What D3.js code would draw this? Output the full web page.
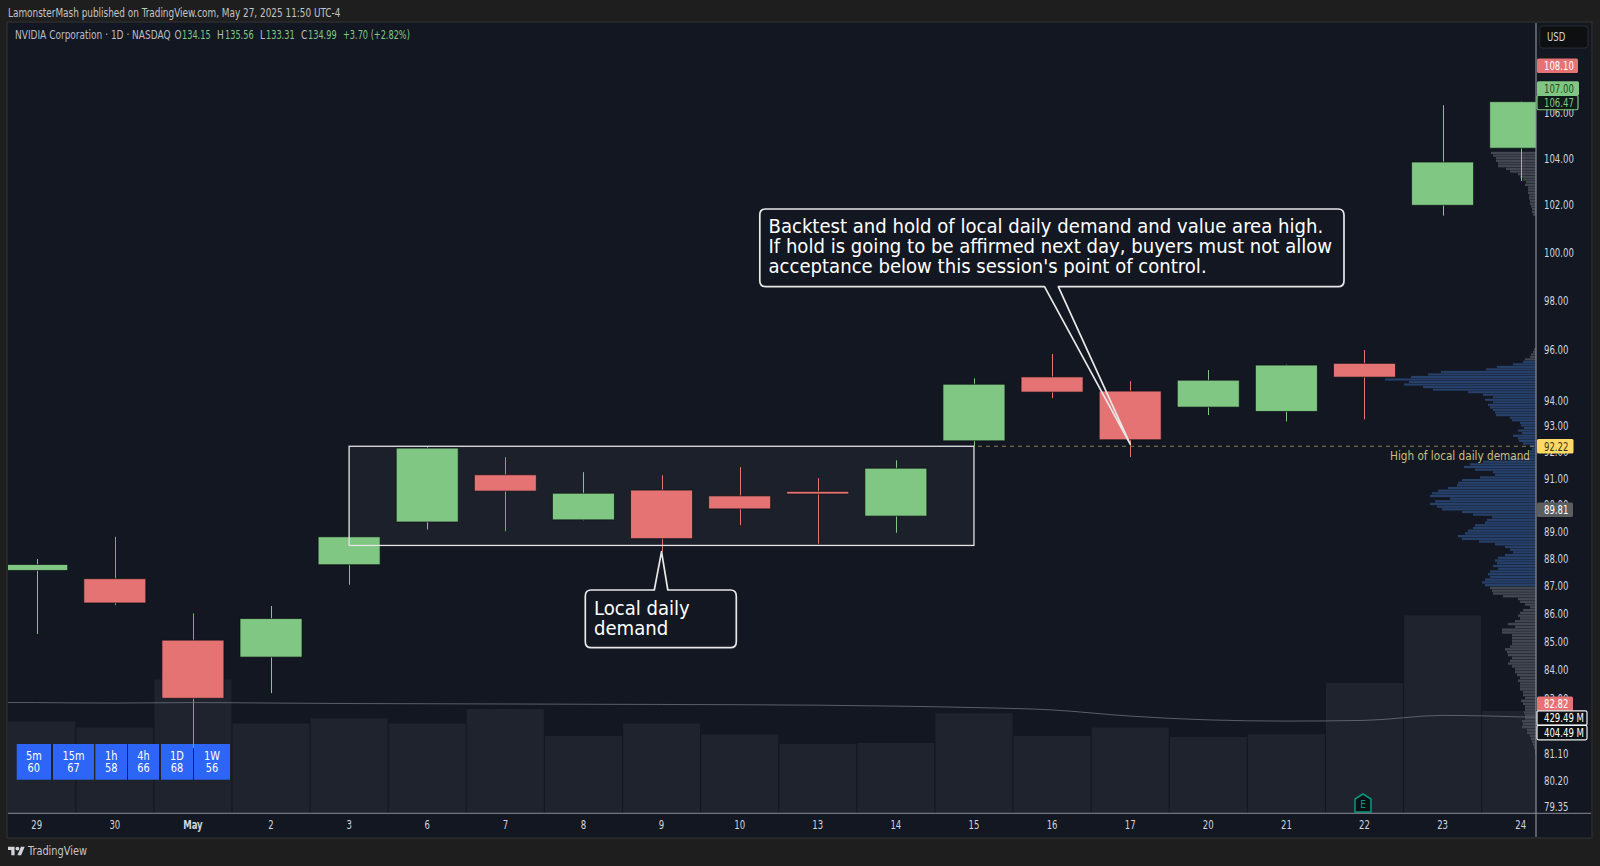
<!DOCTYPE html>
<html>
<head>
<meta charset="utf-8">
<script src="https://cdnjs.cloudflare.com/ajax/libs/d3/7.9.0/d3.min.js"></script>
<style>
html,body{margin:0;padding:0;background:#1e1e1e;overflow:hidden}
svg{display:block}
text{font-family:"DejaVu Sans Condensed","DejaVu Sans",sans-serif;font-stretch:condensed}
</style>
</head>
<body>
<svg id="chart" width="1600" height="866"></svg>
<script>
// NVDA daily session data
const dayLabels = ["29","30","May","2","3","6","7","8","9","10","13","14","15","16","17","20","21","22","23","24"];
const opens  = [87.56,87.26,85.05,84.45,87.77,89.35,91.13,89.43,90.55,90.33,90.50,89.57,92.43,94.93,94.37,93.74,93.57,95.47,101.98,104.44];
const highs  = [87.98,88.80,86.01,86.27,88.80,92.23,91.80,91.23,91.11,91.42,91.00,91.68,94.87,95.84,94.76,95.20,95.42,96.00,106.33,106.52];
const lows   = [85.27,86.30,81.30,83.19,87.04,89.07,89.01,89.41,88.25,89.23,88.54,88.95,92.23,94.09,91.80,93.43,93.18,93.26,101.54,103.02];
const closes = [87.78,86.38,83.01,85.82,88.80,92.15,90.51,90.43,88.73,89.84,90.40,91.38,94.64,94.33,92.47,94.80,95.40,94.92,103.84,106.49];
const volumes  = [386,360,562,377,398,377,438,325,377,330,291,295,420,325,360,320,332,547,832,429.49];
const volumeMA = [465,463,465,463,461,460,459,458,457,456,454,450,444,434,408,392,387,390,411,404.49];

const priceTicks = [106,104,102,100,98,96,94,93,92,91,90,89,88,87,86,85,84,83,81.1,80.2,79.35];

// Session volume profile, one list per cluster, widths read top-down
const profileUpperStart = 104.24, profileUpperStep = 0.115;
const profileUpper = [45,43,40,40,38,38,30,26,18,16,13,10,11,8,8,8,7,7,6,6,5,4,4,3];
const profileLowerStart = 96.03, profileLowerStep = 0.1;
const profileLower = [2,3,5,6,11,13,23,39,50,95,108,125,151,127,132,113,103,68,53,43,51,43,48,46,43,41,40,26,24,16,15,12,18,14,23,18,
 17,13,6,4,6,6,6,26,53,66,72,61,43,41,56,74,78,79,88,98,104,106,86,101,106,99,94,74,63,44,49,51,61,63,68,71,78,74,
 57,41,31,26,23,31,38,41,39,43,38,46,48,46,51,54,51,46,44,43,33,18,16,11,6,13,16,18,16,21,28,21,34,34,24,24,24,24,26,31,29,
 28,24,26,28,24,21,21,19,16,18,16,16,16,13,13,11,15,13,11,11,12,11,11,14,13,14,9,9,6,5,4,3,2,1,1];
const valueAreaHigh = 95.6, valueAreaLow = 87.0;

const timeframes = ["5m","15m","1h","4h","1D","1W"];
const tfScores   = [60,67,58,66,68,56];

const headerText = "LamonsterMash published on TradingView.com, May 27, 2025 11:50 UTC-4";
const noteHigh = ["Backtest and hold of local daily demand and value area high.",
                  "If hold is going to be affirmed next day, buyers must not allow",
                  "acceptance below this session's point of control."];
const noteLocal = ["Local daily","demand"];
const demandHigh = 92.22, demandLow = 88.48;

const GREEN="#81c784", RED="#e57373", BG="#131722", OUTER="#1e1e1e", AXIS="#d1d4dc";
const NARROW = 0.87, NUMERIC = 0.79;

const svg = d3.select("#chart");
const plot = {l:8, r:1536, t:23, b:813};

const x = d3.scaleBand().domain(dayLabels).range([-2.35,1559.75]).paddingInner(0.206).paddingOuter(0.103);
const xVol = d3.scaleBand().domain(dayLabels).range([-2.35,1559.75]).paddingInner(0.014).paddingOuter(0.007);
const cx = d => x(d) + x.bandwidth()/2;
const y = d3.scaleLog().domain([79.35,106]).range([806.3,112.7]);
const yVol = d3.scaleLinear().domain([0,429.49]).range([813,711]);

// Text helper: sets the string then narrows the run horizontally
function squeeze(sel,k=NARROW){
  sel.each(function(){
    const w=this.getComputedTextLength();
    d3.select(this).attr("textLength",w*k).attr("lengthAdjust","spacingAndGlyphs");
  });
  return sel;
}
function label(g,str,px,py,size,fill,o={}){
  const t=g.append("text").attr("x",px).attr("y",py).attr("font-size",size).attr("fill",fill)
    .attr("text-anchor",o.anchor||"start").attr("font-weight",o.weight||"normal").text(str);
  squeeze(t,o.k||NARROW);
  return t;
}

// Page frame and panels
svg.append("rect").attr("width",1600).attr("height",866).attr("fill",OUTER);
svg.append("rect").attr("x",plot.l-1).attr("y",plot.t-1).attr("width",1591-plot.l+2).attr("height",837-plot.t+2)
  .attr("fill",BG).attr("stroke","#2c2c2c").attr("stroke-width",1.5);
svg.append("defs").append("clipPath").attr("id","plotClip").append("rect")
  .attr("x",plot.l).attr("y",plot.t).attr("width",plot.r-plot.l).attr("height",plot.b-plot.t);

const main = svg.append("g").attr("clip-path","url(#plotClip)");

// Volume histogram
main.append("g").selectAll("rect").data(dayLabels).join("rect")
  .attr("x",d=>xVol(d)).attr("width",xVol.bandwidth())
  .attr("y",(d,i)=>yVol(volumes[i])).attr("height",(d,i)=>yVol(0)-yVol(volumes[i]))
  .attr("fill","#1f232d");

// Demand zone box
main.append("rect")
  .attr("x",cx("3")).attr("width",cx("15")-cx("3"))
  .attr("y",y(demandHigh)).attr("height",y(demandLow)-y(demandHigh))
  .attr("fill","#ffffff").attr("fill-opacity",0.04);

// Volume profile
function drawProfile(widths,start,step){
  const top=d3.range(widths.length).map(i=>start-i*step);
  main.append("g").selectAll("rect").data(widths).join("rect")
    .attr("x",d=>plot.r-d).attr("width",d=>d)
    .attr("y",(d,i)=>y(top[i])-1)
    .attr("height",(d,i)=>Math.max(1.4,y(top[i]-step)-y(top[i])-0.4))
    .attr("fill",(d,i)=>top[i]<=valueAreaHigh&&top[i]>=valueAreaLow?"#27416b":"#434752");
}
drawProfile(profileUpper,profileUpperStart,profileUpperStep);
drawProfile(profileLower,profileLowerStart,profileLowerStep);

// Candles
const candles = main.append("g").selectAll("g").data(dayLabels).join("g");
const up = i=>closes[i]>=opens[i];
candles.append("line")
  .attr("x1",d=>Math.round(cx(d))+.5).attr("x2",d=>Math.round(cx(d))+.5)
  .attr("y1",(d,i)=>y(highs[i])).attr("y2",(d,i)=>y(lows[i]))
  .attr("stroke",(d,i)=>up(i)?GREEN:RED).attr("stroke-width",1);
candles.append("rect")
  .attr("x",d=>x(d)).attr("width",x.bandwidth())
  .attr("y",(d,i)=>y(Math.max(opens[i],closes[i])))
  .attr("height",(d,i)=>Math.max(1,y(Math.min(opens[i],closes[i]))-y(Math.max(opens[i],closes[i]))))
  .attr("fill",(d,i)=>up(i)?GREEN:RED)
  .attr("stroke","#0c1014").attr("stroke-opacity",.7).attr("stroke-width",1);

// Volume moving average
const maX = d3.scaleLinear().domain([0,dayLabels.length-1]).range([cx(dayLabels[0]),cx(dayLabels[dayLabels.length-1])]);
main.append("path").datum(volumeMA)
  .attr("d",d3.line().x((d,i)=>maX(i)).y(d=>yVol(d)).curve(d3.curveMonotoneX))
  .attr("fill","none").attr("stroke","#787b86").attr("stroke-opacity",.7).attr("stroke-width",1);
main.append("line").attr("x1",plot.l).attr("x2",cx(dayLabels[0]))
  .attr("y1",yVol(volumeMA[0])).attr("y2",yVol(volumeMA[0]))
  .attr("stroke","#787b86").attr("stroke-opacity",.7);
main.append("line").attr("x1",cx(dayLabels[19])).attr("x2",plot.r)
  .attr("y1",yVol(volumeMA[19])).attr("y2",yVol(volumeMA[19]))
  .attr("stroke","#787b86").attr("stroke-opacity",.7);

// Zone outline and dashed extension to the price axis
main.append("rect")
  .attr("x",cx("3")).attr("width",cx("15")-cx("3"))
  .attr("y",y(demandHigh)).attr("height",y(demandLow)-y(demandHigh))
  .attr("fill","none").attr("stroke","#e4e4e4").attr("stroke-width",1.3);
main.append("line").attr("x1",cx("15")+4).attr("x2",plot.r)
  .attr("y1",y(demandHigh)).attr("y2",y(demandHigh))
  .attr("stroke","#8f7f4e").attr("stroke-width",1).attr("stroke-dasharray","4 4");
label(main,"High of local daily demand",1530,460,12,"#c9bf7f",{anchor:"end",k:.97});

// Speech-bubble outline with a tail on the top or bottom edge
function bubble(b,baseL,baseR,tip){
  const r=6, side=tip[1]<b.y0?"top":"bottom";
  const p=d3.path();
  p.moveTo(b.x0+r,b.y0);
  if(side==="top"){p.lineTo(baseL,b.y0);p.lineTo(tip[0],tip[1]);p.lineTo(baseR,b.y0);}
  p.lineTo(b.x1-r,b.y0);p.quadraticCurveTo(b.x1,b.y0,b.x1,b.y0+r);
  p.lineTo(b.x1,b.y1-r);p.quadraticCurveTo(b.x1,b.y1,b.x1-r,b.y1);
  if(side==="bottom"){p.lineTo(baseR,b.y1);p.lineTo(tip[0],tip[1]);p.lineTo(baseL,b.y1);}
  p.lineTo(b.x0+r,b.y1);p.quadraticCurveTo(b.x0,b.y1,b.x0,b.y1-r);
  p.lineTo(b.x0,b.y0+r);p.quadraticCurveTo(b.x0,b.y0,b.x0+r,b.y0);p.closePath();
  main.append("rect").attr("x",b.x0).attr("y",b.y0).attr("width",b.x1-b.x0).attr("height",b.y1-b.y0).attr("rx",r).attr("fill",BG);
  main.append("path").attr("d",p.toString()).attr("fill","none").attr("stroke","#e8e8e8").attr("stroke-width",1.7).attr("stroke-linejoin","round");
}
bubble({x0:759.8,x1:1344,y0:209,y1:286.7},1044.5,1058.3,[cx("17"),y(92.3)]);
noteHigh.forEach((s,i)=>label(main,s,768.5,232.7+i*20,19.5,"#ffffff",{k:1.03}));
bubble({x0:585.3,x1:736.3,y0:590,y1:647.7},654.3,667.8,[cx("9"),y(88.25)]);
noteLocal.forEach((s,i)=>label(main,s,594,615+i*20,19.5,"#ffffff",{k:1.03}));

// Earnings marker
const eX=cx("22")-1.5, eY=812;
main.append("path")
  .attr("d",d3.line()([[eX-8,eY],[eX+8,eY],[eX+8,eY-13],[eX,eY-18],[eX-8,eY-13]])+"Z")
  .attr("fill","#0c1014").attr("stroke","#089981").attr("stroke-width",1.5);
label(main,"E",eX,eY-4,10,"#089981",{anchor:"middle",k:1});

// Multi-timeframe score table
const tfEdges=[[16.7,51],[53,94],[95.3,127],[128,159],[161,193],[194,230]];
const tf=svg.append("g");
timeframes.forEach((name,i)=>{
  const [a,b]=tfEdges[i];
  tf.append("rect").attr("x",a).attr("y",744).attr("width",b-a).attr("height",35.7).attr("fill","#2e69ff").attr("fill-opacity",.96);
  label(tf,name,(a+b)/2,760,12.5,"#ffffff",{anchor:"middle"});
  label(tf,tfScores[i],(a+b)/2,772,12.5,"#ffffff",{anchor:"middle"});
});

// Axis rules
svg.append("line").attr("x1",plot.l).attr("x2",1591).attr("y1",813.3).attr("y2",813.3).attr("stroke","#8a8d96").attr("stroke-width",1);
svg.append("line").attr("x1",1536).attr("x2",1536).attr("y1",plot.t).attr("y2",837).attr("stroke","#8a8d96").attr("stroke-width",1.2);

// Time axis
const xAxis=svg.append("g").attr("transform","translate(0,813)")
  .call(d3.axisBottom(x).tickSize(0).tickPadding(7));
xAxis.select(".domain").remove();
xAxis.selectAll("text").attr("font-size",12).attr("fill",AXIS).attr("font-family",null)
  .attr("font-weight",d=>d==="May"?"bold":"normal").call(sel=>squeeze(sel,NUMERIC));

// Price axis
const yAxis=svg.append("g").attr("transform","translate(1537,0)")
  .call(d3.axisRight(y).tickValues(priceTicks).tickFormat(d3.format(".2f")).tickSize(0).tickPadding(7));
yAxis.select(".domain").remove();
yAxis.selectAll("text").attr("font-size",12).attr("fill",AXIS).attr("font-family",null).call(sel=>squeeze(sel,NUMERIC));

// Price axis tags
function tag(txt,py,w,fill,color,stroke){
  const g=svg.append("g");
  g.append("rect").attr("x",1537).attr("y",py-7.2).attr("width",w).attr("height",14.4).attr("rx",1.5)
    .attr("fill",fill).attr("stroke",stroke||"none").attr("stroke-width",stroke?1.2:0);
  label(g,txt,1544,py+4.3,12,color,{k:NUMERIC});
}
tag("108.10",y(108.10),41,RED,"#ffffff");
tag("107.00",y(107.08),42,GREEN,"#1f4a24");
tag("106.47",y(106.45),41,"#101a18",GREEN,GREEN);
tag("92.22",y(demandHigh),36.5,"#ffd966","#3a3520");
tag("89.81",y(89.81),36,"#5d5d5d","#ffffff");
tag("82.82",y(82.82),36,RED,"#ffffff");
tag("429.49 M",718,50,"#0c0f14","#ffffff","#f0f0f0");
tag("404.49 M",732.6,50,"#0c0f14","#ffffff","#f0f0f0");

// Currency button
svg.append("rect").attr("x",1539.7).attr("y",26).attr("width",48.3).attr("height",22).attr("rx",3)
  .attr("fill","#0e0f11").attr("stroke","#2a2c31");
label(svg,"USD",1547,41,12,AXIS,{k:NUMERIC});

// Header, legend, footer
label(svg,headerText,8,16.5,11.5,"#c4c4c4",{k:.86});
const lg=svg.append("g");
const legend=[["NVIDIA Corporation · 1D · NASDAQ",15,"#b8bbc4",NARROW],["O",174.5,"#b8bbc4",NARROW],["134.15",182,GREEN,NUMERIC],["H",217,"#b8bbc4",NARROW],["135.56",225,GREEN,NUMERIC],["L",260,"#b8bbc4",NARROW],["133.31",266,GREEN,NUMERIC],["C",301,"#b8bbc4",NARROW],["134.99",308,GREEN,NUMERIC],["+3.70 (+2.82%)",343,GREEN,NUMERIC]];
legend.forEach(([s,px,c,k])=>label(lg,s,px,39,11.5,c,{k}));

const logo=svg.append("g").attr("transform","translate(8,844.8) scale(0.47)").attr("fill","#d1d4dc");
logo.append("path").attr("d","M14 22H7V11H0V4h14v18zM28 22h-8l7.5-18h8L28 22z");
logo.append("circle").attr("cx",20).attr("cy",8).attr("r",4);
label(svg,"TradingView",28,855,12.5,"#c4c6cc");
</script>
</body>
</html>
